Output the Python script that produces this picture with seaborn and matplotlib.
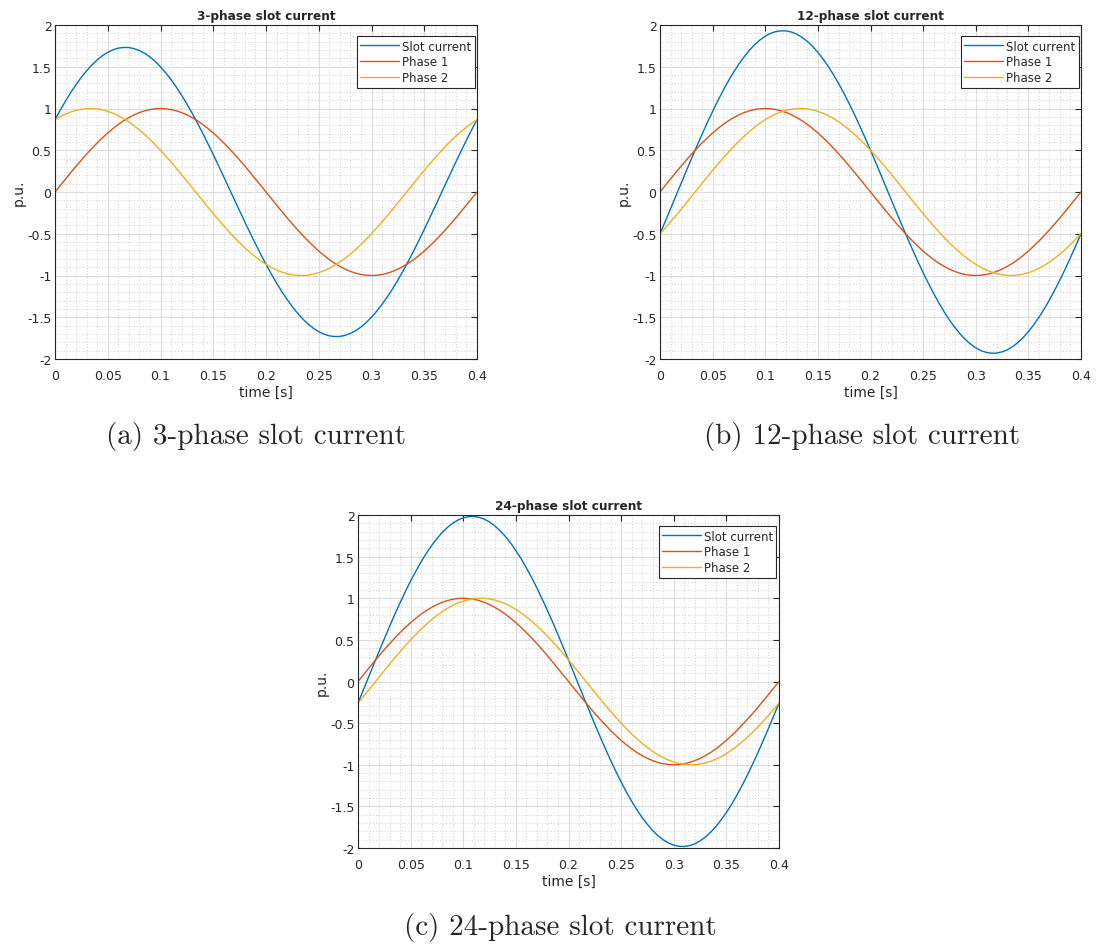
import numpy as np
import pandas as pd
import matplotlib
matplotlib.use("Agg")
import matplotlib.pyplot as plt
import seaborn as sns
from matplotlib.ticker import MultipleLocator

sns.set_style("white")
plt.rcParams['font.family'] = ['DejaVu Sans']

# time axis [s], 0 .. 0.4 every 5 ms
time = [round(0.005 * k, 3) for k in range(81)]

# Phase 1 (same in all three charts), p.u.
phase1 = [0.000, 0.078, 0.156, 0.233, 0.309, 0.383, 0.454, 0.522, 0.588, 0.649, 0.707,
          0.760, 0.809, 0.853, 0.891, 0.924, 0.951, 0.972, 0.988, 0.997, 1.000,
          0.997, 0.988, 0.972, 0.951, 0.924, 0.891, 0.853, 0.809, 0.760, 0.707,
          0.649, 0.588, 0.522, 0.454, 0.383, 0.309, 0.233, 0.156, 0.078, 0.000,
          -0.078, -0.156, -0.233, -0.309, -0.383, -0.454, -0.522, -0.588, -0.649, -0.707,
          -0.760, -0.809, -0.853, -0.891, -0.924, -0.951, -0.972, -0.988, -0.997, -1.000,
          -0.997, -0.988, -0.972, -0.951, -0.924, -0.891, -0.853, -0.809, -0.760, -0.707,
          -0.649, -0.588, -0.522, -0.454, -0.383, -0.309, -0.233, -0.156, -0.078, 0.000]

# 3-phase
p3_phase2 = [0.866, 0.903, 0.934, 0.959, 0.978, 0.991, 0.999,
             1.000, 0.995, 0.983, 0.966, 0.943, 0.914, 0.879, 0.839, 0.793, 0.743,
             0.688, 0.629, 0.566, 0.500, 0.431, 0.358, 0.284, 0.208, 0.131, 0.052,
             -0.026, -0.105, -0.182, -0.259, -0.334, -0.407, -0.477, -0.545, -0.609, -0.669,
             -0.725, -0.777, -0.824, -0.866, -0.903, -0.934, -0.959, -0.978, -0.991, -0.999,
             -1.000, -0.995, -0.983, -0.966, -0.943, -0.914, -0.879, -0.839, -0.793, -0.743,
             -0.688, -0.629, -0.566, -0.500, -0.431, -0.358, -0.284, -0.208, -0.131, -0.052,
             0.026, 0.105, 0.182, 0.259, 0.334, 0.407, 0.477, 0.545, 0.609, 0.669,
             0.725, 0.777, 0.824, 0.866]
p3_slot = [0.866, 0.981, 1.090, 1.192, 1.287, 1.374, 1.453, 1.522, 1.582, 1.633, 1.673,
           1.703, 1.723, 1.731,
           1.730, 1.717, 1.694, 1.661, 1.617, 1.563, 1.500, 1.427, 1.346, 1.256,
           1.159, 1.054, 0.943, 0.826, 0.705, 0.578, 0.448, 0.316, 0.181, 0.045,
           -0.091, -0.226, -0.360, -0.492, -0.621, -0.746, -0.866, -0.981, -1.090, -1.192,
           -1.287, -1.374, -1.453, -1.522, -1.582, -1.633, -1.673, -1.703, -1.723, -1.731,
           -1.730, -1.717, -1.694, -1.661, -1.617, -1.563, -1.500, -1.427, -1.346, -1.256,
           -1.159, -1.054, -0.943, -0.826, -0.705, -0.578, -0.448, -0.316, -0.181, -0.045,
           0.091, 0.226, 0.360, 0.492, 0.621, 0.746, 0.866]

# 12-phase
p12_phase2 = [-0.500, -0.431, -0.358, -0.284, -0.208, -0.131, -0.052,
              0.026, 0.105, 0.182, 0.259, 0.334, 0.407, 0.477, 0.545, 0.609, 0.669,
              0.725, 0.777, 0.824, 0.866, 0.903, 0.934, 0.959, 0.978, 0.991, 0.999,
              1.000, 0.995, 0.983, 0.966, 0.943, 0.914, 0.879, 0.839, 0.793, 0.743,
              0.688, 0.629, 0.566, 0.500, 0.431, 0.358, 0.284, 0.208, 0.131, 0.052,
              -0.026, -0.105, -0.182, -0.259, -0.334, -0.407, -0.477, -0.545, -0.609, -0.669,
              -0.725, -0.777, -0.824, -0.866, -0.903, -0.934, -0.959, -0.978, -0.991, -0.999,
              -1.000, -0.995, -0.983, -0.966, -0.943, -0.914, -0.879, -0.839, -0.793, -0.743,
              -0.688, -0.629, -0.566, -0.500]
p12_slot = [-0.500, -0.352, -0.202, -0.051,
            0.101, 0.252, 0.402, 0.549, 0.692, 0.832, 0.966, 1.094, 1.216, 1.330,
            1.436, 1.533, 1.620, 1.698, 1.765, 1.821, 1.866, 1.900, 1.921, 1.931,
            1.929, 1.915, 1.890, 1.852, 1.804, 1.744, 1.673, 1.592, 1.501, 1.401,
            1.293, 1.176, 1.052, 0.922, 0.786, 0.645, 0.500, 0.352, 0.202, 0.051,
            -0.101, -0.252, -0.402, -0.549, -0.692, -0.832, -0.966, -1.094, -1.216, -1.330,
            -1.436, -1.533, -1.620, -1.698, -1.765, -1.821, -1.866, -1.900, -1.921, -1.931,
            -1.929, -1.915, -1.890, -1.852, -1.804, -1.744, -1.673, -1.592, -1.501, -1.401,
            -1.293, -1.176, -1.052, -0.922, -0.786, -0.645, -0.500]

# 24-phase
p24_phase2 = [-0.259, -0.182, -0.105, -0.026,
              0.052, 0.131, 0.208, 0.284, 0.358, 0.431, 0.500, 0.566, 0.629, 0.688,
              0.743, 0.793, 0.839, 0.879, 0.914, 0.943, 0.966, 0.983, 0.995, 1.000,
              0.999, 0.991, 0.978, 0.959, 0.934, 0.903, 0.866, 0.824, 0.777, 0.725,
              0.669, 0.609, 0.545, 0.477, 0.407, 0.334, 0.259, 0.182, 0.105, 0.026,
              -0.052, -0.131, -0.208, -0.284, -0.358, -0.431, -0.500, -0.566, -0.629, -0.688,
              -0.743, -0.793, -0.839, -0.879, -0.914, -0.943, -0.966, -0.983, -0.995, -1.000,
              -0.999, -0.991, -0.978, -0.959, -0.934, -0.903, -0.866, -0.824, -0.777, -0.725,
              -0.669, -0.609, -0.545, -0.477, -0.407, -0.334, -0.259]
p24_slot = [-0.259, -0.104,
            0.052, 0.207, 0.361, 0.513, 0.662, 0.807, 0.946, 1.080, 1.207, 1.327,
            1.438, 1.541, 1.634, 1.717, 1.790, 1.851, 1.901, 1.940, 1.966, 1.980,
            1.982, 1.972, 1.950, 1.915, 1.869, 1.811, 1.743, 1.663, 1.573, 1.474,
            1.365, 1.248, 1.123, 0.991, 0.854, 0.711, 0.563, 0.412, 0.259, 0.104,
            -0.052, -0.207, -0.361, -0.513, -0.662, -0.807, -0.946, -1.080, -1.207, -1.327,
            -1.438, -1.541, -1.634, -1.717, -1.790, -1.851, -1.901, -1.940, -1.966, -1.980,
            -1.982, -1.972, -1.950, -1.915, -1.869, -1.811, -1.743, -1.663, -1.573, -1.474,
            -1.365, -1.248, -1.123, -0.991, -0.854, -0.711, -0.563, -0.412, -0.259]

series_names = ["Slot current", "Phase 1", "Phase 2"]
colors = ["#0072BD", "#D95319", "#EDB120"]
titles = ["3-phase slot current", "12-phase slot current", "24-phase slot current"]
captions = ["(a) 3-phase slot current", "(b) 12-phase slot current", "(c) 24-phase slot current"]
xticks = [0, 0.05, 0.1, 0.15, 0.2, 0.25, 0.3, 0.35, 0.4]
xticklabels = ["0", "0.05", "0.1", "0.15", "0.2", "0.25", "0.3", "0.35", "0.4"]
yticks = [-2, -1.5, -1, -0.5, 0, 0.5, 1, 1.5, 2]
yticklabels = ["-2", "-1.5", "-1", "-0.5", "0", "0.5", "1", "1.5", "2"]

datasets = [
    (p3_slot, phase1, p3_phase2),
    (p12_slot, phase1, p12_phase2),
    (p24_slot, phase1, p24_phase2),
]

W, H = 1098, 945
fig = plt.figure(figsize=(W / 100, H / 100), dpi=100)

# axes boxes in pixels: left, top, right, bottom
boxes = [(55, 26, 477, 360), (660, 26, 1081, 360), (358, 516, 779, 849)]
caption_pos = [(256, 437), (862, 437), (560, 928)]

tick_col = "#262626"
for i, (box, data) in enumerate(zip(boxes, datasets)):
    l, t, r, b = box
    ax = fig.add_axes([l / W, 1 - b / H, (r - l) / W, (b - t) / H])
    frames = []
    for name, vals in zip(series_names, data):
        frames.append(pd.DataFrame({"time": time, "value": vals, "series": name}))
    df = pd.concat(frames, ignore_index=True)
    sns.lineplot(data=df, x="time", y="value", hue="series", palette=colors,
                 hue_order=series_names, ax=ax, linewidth=1.0, estimator=None, sort=False)
    ax.set_xlim(0, 0.4)
    ax.set_ylim(-2, 2)
    ax.set_xticks(xticks)
    ax.set_xticklabels(xticklabels)
    ax.set_yticks(yticks)
    ax.set_yticklabels(yticklabels)
    ax.xaxis.set_minor_locator(MultipleLocator(0.01))
    ax.yaxis.set_minor_locator(MultipleLocator(0.1))
    ax.grid(which="major", color="#dcdcdc", linewidth=0.8, linestyle="-")
    ax.grid(which="minor", color="#c4c4c4", linewidth=0.6, linestyle=(0, (1, 2.5)))
    ax.set_axisbelow(True)
    ax.tick_params(which="major", direction="in", length=4, width=0.8, top=True, right=True,
                   labelsize=9, colors=tick_col)
    ax.tick_params(axis="x", which="major", pad=7)
    ax.tick_params(axis="y", which="major", pad=2.5)
    ax.tick_params(which="minor", length=0, top=True, right=True)
    for sp in ax.spines.values():
        sp.set_color(tick_col)
        sp.set_linewidth(0.8)
    ax.set_xlabel("time [s]", fontsize=10, color=tick_col, labelpad=2)
    ax.set_ylabel("p.u.", fontsize=10, color=tick_col, labelpad=1)
    ax.set_title(titles[i], fontsize=8.7, fontweight="bold", pad=4)
    ax_w, ax_h = r - l, b - t
    leg = ax.legend(loc="upper right", bbox_to_anchor=(1 - 2.5 / ax_w, 1 - 11 / ax_h),
                    borderaxespad=0, fontsize=8.5, frameon=True, fancybox=False,
                    framealpha=1, edgecolor="#262626", handlelength=3.3,
                    handletextpad=0.2, borderpad=0.3, labelspacing=0.25, title=None)
    leg.get_frame().set_linewidth(0.8)
    cx, cy = caption_pos[i]
    fig.text(cx / W, 1 - cy / H, captions[i], ha="center", va="center",
             fontsize=21, family="cmr10")

fig.savefig("out.png", dpi=100)
